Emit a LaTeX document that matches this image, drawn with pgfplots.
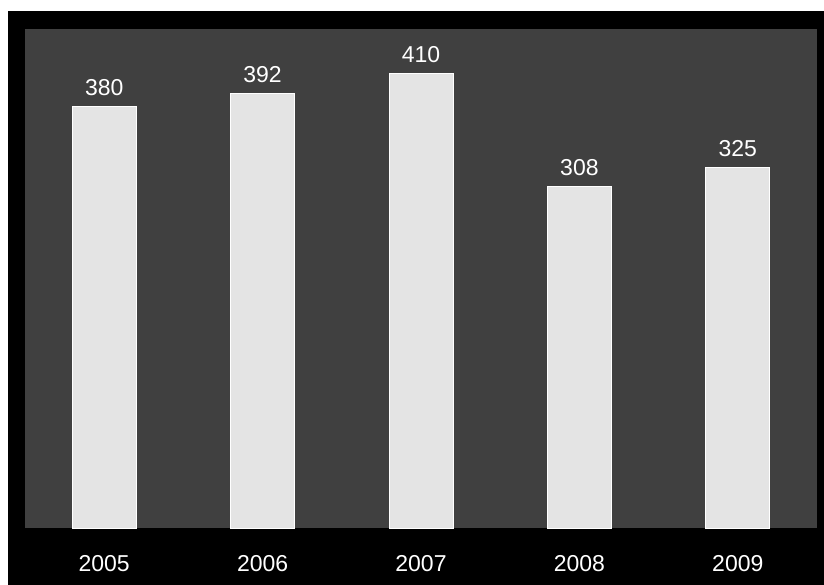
\documentclass[border=0pt]{standalone}
\usepackage{fontspec}
\setmainfont{Liberation Sans}
\usepackage{pgfplots}
\pgfplotsset{compat=1.18}
\definecolor{plotgray}{RGB}{64,64,64}
\definecolor{marble}{RGB}{228,228,228}
\begin{document}
\begin{tikzpicture}
\path[use as bounding box] (0,0) rectangle (824bp,585bp);
\fill[white] (0,0) rectangle (824bp,585bp);
\fill[black] (8bp,0) rectangle (824bp,574bp);
\begin{axis}[
    at={(25bp,57bp)}, anchor=south west,
    scale only axis,
    width=792bp, height=499bp,
    xmin=-0.5, xmax=4.5,
    ymin=0, ymax=450,
    axis background/.style={fill=plotgray},
    axis line style={draw=none},
    ytick=\empty,
    xtick={0,1,2,3,4},
    xticklabels={2005,2006,2007,2008,2009},
    major tick length=0pt,
    xticklabel style={anchor=base, yshift=-43bp, text=white,
        font=\fontsize{23bp}{27bp}\selectfont},
    /pgf/number format/assume math mode=true,
    nodes near coords,
    nodes near coords style={anchor=base, yshift=11bp, text=white,
        font=\fontsize{23bp}{27bp}\selectfont},
    ybar, bar width=64bp,
    clip=false,
]
\addplot[draw=white, line width=0.8bp, fill=marble]
    coordinates {(0,380) (1,392) (2,410) (3,308) (4,325)};
\end{axis}
\end{tikzpicture}
\end{document}
